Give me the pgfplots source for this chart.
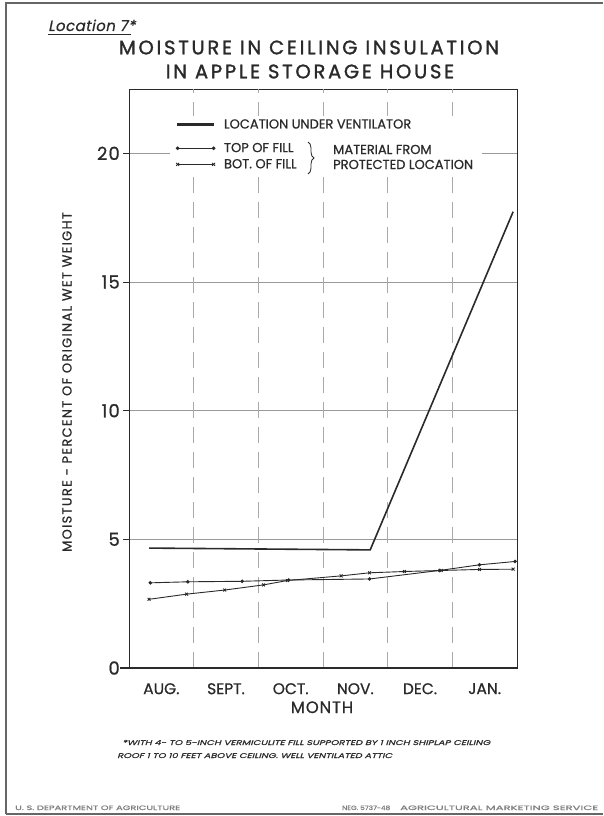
\documentclass[border=0pt]{standalone}
\usepackage{pgfplots}
\pgfplotsset{compat=1.18}
\usepackage{fontspec}
\setmainfont{Poppins}[FakeBold=0.7]
\newfontfamily\slfont{Poppins}[FakeSlant=0.2, FakeBold=0.5]
\usetikzlibrary{decorations.pathreplacing}
\usepackage{graphicx}
\definecolor{ink}{HTML}{2A2A2A}
\definecolor{gridc}{HTML}{9A9A9A}
\pgfplotsset{
  ventlegend/.style={legend image code/.code={\fill[ink] (0pt,-0.85pt) rectangle (36pt,0.85pt); \path (0pt,-12pt);}},
  marklegend/.style={legend image code/.code={\draw[mark repeat=2,##1] plot coordinates {(0pt,0pt) (18pt,0pt) (36pt,0pt)};}},
}
\begin{document}
\begin{tikzpicture}
\useasboundingbox (0pt,0pt) rectangle (603pt,-816pt);
\fill[white] (0pt,0pt) rectangle (603pt,-816pt);
% page frame
\draw[gray!80!black, line width=1.4pt] (6pt,-2pt) -- (6pt,-814pt);
\draw[gray!80!black, line width=1.2pt] (6pt,-3pt) -- (603pt,-3pt);
\draw[gray!80!black, line width=1.6pt] (6pt,-814pt) -- (603pt,-814pt);
% location tag
\node[anchor=base west, inner sep=0pt, text=ink] at (48pt,-31pt) {\fontsize{15}{15}\slfont\addfontfeatures{LetterSpace=3}Location 7*};
\draw[ink, line width=0.7pt] (48pt,-34.5pt) -- (131pt,-34.5pt);
% title
\node[anchor=base, inner sep=0pt, text=ink] at (309pt,-54.3pt) {\fontsize{19.5}{20}\selectfont\addfontfeatures{LetterSpace=14, FakeBold=1.4}MOISTURE IN CEILING INSULATION};
\node[anchor=base, inner sep=0pt, text=ink] at (310pt,-78.3pt) {\fontsize{19.5}{20}\selectfont\addfontfeatures{LetterSpace=14, FakeBold=1.4}IN APPLE STORAGE HOUSE};
\begin{axis}[
  at={(129pt,-668pt)}, anchor=south west,
  scale only axis, width=388pt, height=579pt,
  xmin=0, xmax=6, ymin=0, ymax=22.5,
  axis line style={ink, line width=0.9pt},
  xtick={0.5,1.5,2.5,3.5,4.5,5.5},
  xticklabels={AUG.,SEPT.,OCT.,NOV.,DEC.,JAN.},
  x tick label style={font=\fontsize{15.5}{16}\selectfont, text=ink, inner sep=0pt, anchor=north, yshift=-9pt},
  major x tick style={draw=none},
  extra x ticks={1,2,3,4,5},
  extra x tick labels={},
  extra x tick style={grid=major, major grid style={gridc!85, line width=0.5pt, dash pattern=on 16pt off 9pt}, major tick length=0pt},
  ytick={0,5,10,15,20},
  ytick pos=left, tick align=outside,
  major tick length=6pt,
  y tick style={ink, line width=0.6pt},
  ymajorgrids, major grid style={gridc, line width=0.6pt},
  y tick label style={font=\fontsize{18}{18}\selectfont\addfontfeatures{LetterSpace=6}, text=ink, inner sep=0pt, xshift=-3pt},
  /pgf/number format/assume math mode=true,
  legend cell align=left,
  legend style={at={(axis cs:0.727,21.33)}, anchor=north west, draw=none, fill=none, inner sep=0pt,
    row sep=5.5pt, font=\fontsize{13}{13}\selectfont, text=ink, nodes={inner sep=0pt},
    /tikz/every odd column/.append style={column sep=9pt}},
]
\fill[white] (axis cs:0.634,19.12) rectangle (axis cs:5.459,21.45);
\addplot[ink, line width=1.6pt, ventlegend] coordinates {(0.31,4.66) (3.73,4.59) (5.94,17.73)};
\addlegendentry{LOCATION UNDER VENTILATOR}
\addplot[ink, line width=0.9pt, mark=*, mark size=1.3pt, marklegend] coordinates {
 (0.33,3.31) (0.91,3.35) (1.75,3.37) (2.47,3.42) (3.72,3.46) (4.80,3.79) (5.42,4.01) (5.97,4.14)};
\addlegendentry{TOP OF FILL}
\addplot[ink, line width=0.9pt, mark=x, mark size=2pt, mark options={solid}, marklegend] coordinates {
 (0.31,2.67) (0.89,2.87) (1.48,3.03) (2.08,3.23) (2.45,3.40) (3.28,3.58) (3.72,3.70) (4.26,3.75) (4.83,3.79) (5.42,3.83) (5.94,3.84)};
\addlegendentry{BOT. OF FILL}
\end{axis}
% thicker bottom axis
\draw[ink, line width=1.8pt] (120pt,-668pt) -- (517pt,-668pt);
% brace and group text
\draw[ink, line width=0.8pt, decorate, decoration={brace, amplitude=6pt}] (308pt,-142pt) -- (308pt,-174pt);
\node[anchor=base west, inner sep=0pt, text=ink] at (333pt,-154pt) {\fontsize{13}{13}\selectfont MATERIAL FROM};
\node[anchor=base west, inner sep=0pt, text=ink] at (333pt,-169pt) {\fontsize{13}{13}\selectfont PROTECTED LOCATION};
% y label
\node[rotate=90, inner sep=0pt, text=ink] at (67pt,-382pt) {\fontsize{13}{13}\selectfont\addfontfeatures{LetterSpace=10}MOISTURE - PERCENT OF ORIGINAL WET WEIGHT};
% x label
\node[anchor=base, inner sep=0pt, text=ink] at (322pt,-713pt) {\fontsize{16.5}{16}\selectfont\addfontfeatures{LetterSpace=5}MONTH};
% footnote
\node[anchor=base west, inner sep=0pt, text=ink] at (122pt,-745pt) {\resizebox{368pt}{5pt}{\slfont *WITH 4- TO 5-INCH VERMICULITE FILL SUPPORTED BY 1 INCH SHIPLAP CEILING}};
\node[anchor=base west, inner sep=0pt, text=ink] at (117pt,-758pt) {\resizebox{275pt}{5pt}{\slfont ROOF 1 TO 10 FEET ABOVE CEILING. WELL VENTILATED ATTIC}};
% credits
\node[anchor=base west, inner sep=0pt, text=gray] at (15pt,-810pt) {\resizebox{165pt}{4.5pt}{U. S. DEPARTMENT OF AGRICULTURE}};
\node[anchor=base west, inner sep=0pt, text=gray] at (342pt,-810pt) {\resizebox{48pt}{4.5pt}{NEG. 5737-48}};
\node[anchor=base west, inner sep=0pt, text=gray] at (400pt,-810pt) {\resizebox{198pt}{4.5pt}{AGRICULTURAL MARKETING SERVICE}};
\end{tikzpicture}
\end{document}
